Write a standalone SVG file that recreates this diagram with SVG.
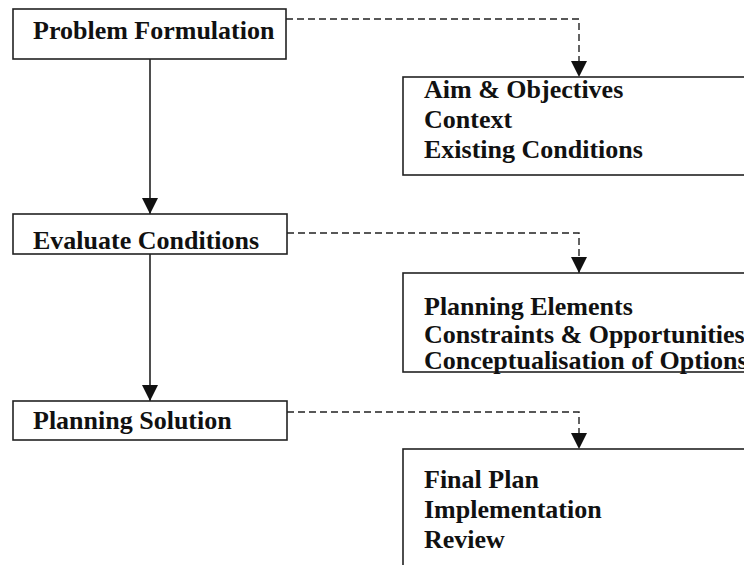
<svg xmlns="http://www.w3.org/2000/svg" width="744" height="565" viewBox="0 0 744 565">
<style>
  .box { fill: #ffffff; stroke: #222222; stroke-width: 1.6; }
  .lbl { font-family: "Liberation Serif", "Times New Roman", serif; font-weight: bold; font-size: 26px; fill: #111111; }
  .solid { fill: none; stroke: #222222; stroke-width: 1.6; }
  .dash { fill: none; stroke: #222222; stroke-width: 1.4; stroke-dasharray: 7 4; }
</style>
<defs>
  <marker id="arr" markerUnits="userSpaceOnUse" markerWidth="16" markerHeight="16" refX="16" refY="8" orient="auto" viewBox="0 0 16 16">
    <path d="M0,0 L16,8 L0,16 Z" fill="#111111"/>
  </marker>
</defs>
<rect width="744" height="565" fill="#ffffff"/>
<g id="connectors">
  <path class="solid" d="M150,59 V214" marker-end="url(#arr)"/>
  <path class="solid" d="M150,254 V401" marker-end="url(#arr)"/>
  <path class="dash" d="M286,19 H579 V77" marker-end="url(#arr)"/>
  <path class="dash" d="M287,233 H579 V273" marker-end="url(#arr)"/>
  <path class="dash" d="M287,412 H579 V449" marker-end="url(#arr)"/>
</g>
<g id="problem-formulation">
  <rect class="box" x="13" y="9" width="273" height="50"/>
  <text class="lbl" x="33" y="39">Problem Formulation</text>
</g>
<g id="evaluate-conditions">
  <rect class="box" x="13" y="214" width="274" height="40"/>
  <text class="lbl" x="33" y="249">Evaluate Conditions</text>
</g>
<g id="planning-solution">
  <rect class="box" x="13" y="401" width="274" height="39"/>
  <text class="lbl" x="33" y="429">Planning Solution</text>
</g>
<g id="aims-box">
  <rect class="box" x="403" y="77" width="400" height="98"/>
  <text class="lbl" x="424" y="98">Aim &amp; Objectives</text>
  <text class="lbl" x="424" y="128">Context</text>
  <text class="lbl" x="424" y="158">Existing Conditions</text>
</g>
<g id="elements-box">
  <rect class="box" x="403" y="273" width="400" height="99"/>
  <text class="lbl" x="424" y="315">Planning Elements</text>
  <text class="lbl" x="424" y="343">Constraints &amp; Opportunities</text>
  <text class="lbl" x="424" y="369">Conceptualisation of Options</text>
</g>
<g id="plan-box">
  <rect class="box" x="403" y="449" width="400" height="200"/>
  <text class="lbl" x="424" y="488">Final Plan</text>
  <text class="lbl" x="424" y="518">Implementation</text>
  <text class="lbl" x="424" y="548">Review</text>
</g>
</svg>
